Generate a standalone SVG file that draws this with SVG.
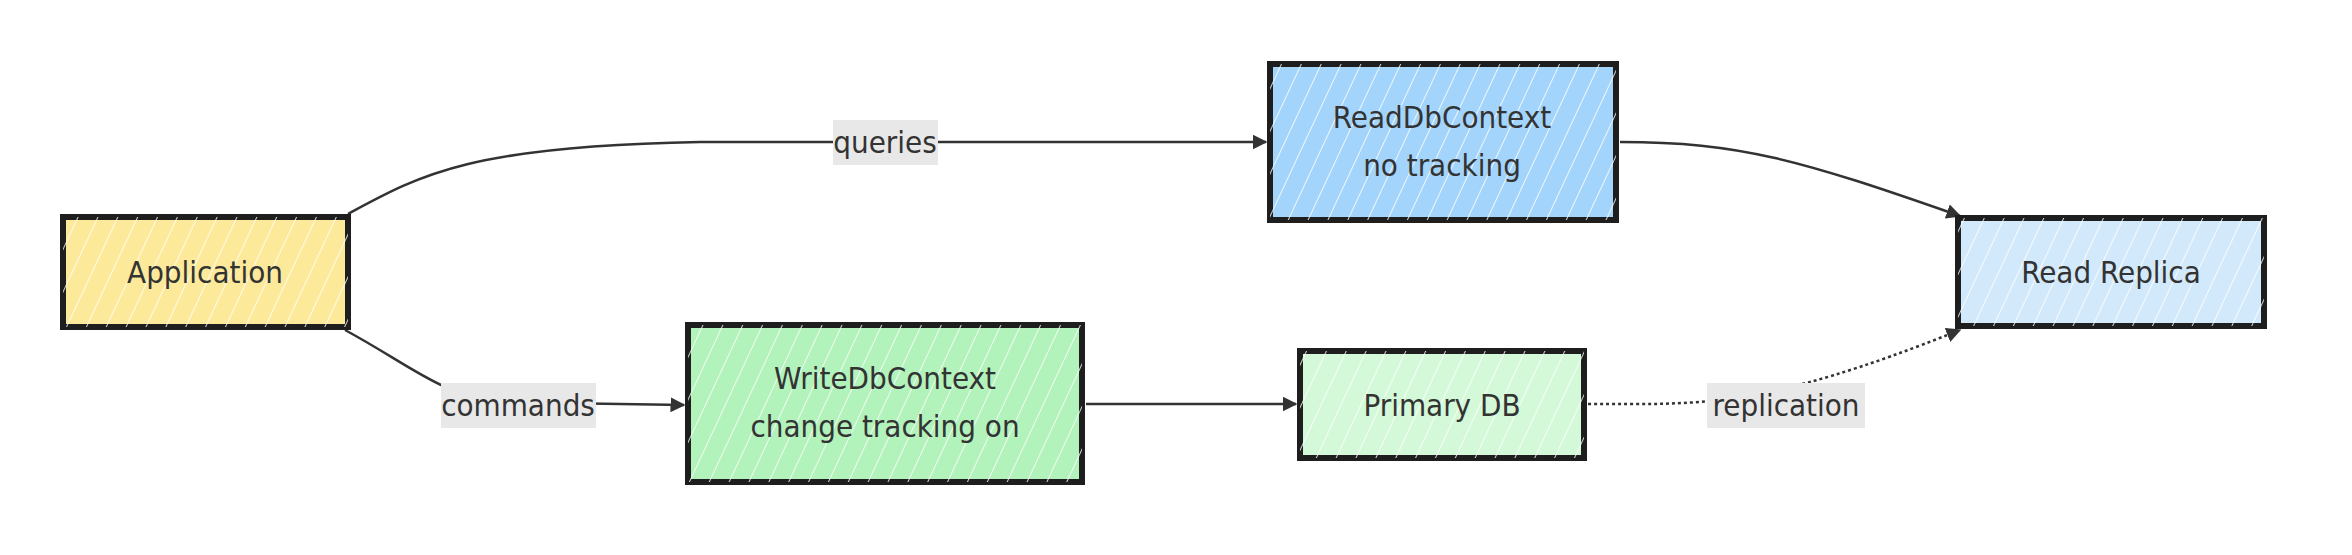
<svg xmlns="http://www.w3.org/2000/svg" width="2352" height="555" viewBox="0 0 2352 555">
<style>
.n{stroke:#1e1e1e;stroke-width:6}
.t{font-family:"DejaVu Sans Condensed","DejaVu Sans",sans-serif;font-size:31px;fill:#333;text-anchor:middle}
.e{fill:none;stroke:#333;stroke-width:2.5}
.lb{fill:#e8e8e8}
</style>
<defs>
<pattern id="h" width="18" height="18" patternUnits="userSpaceOnUse" patternTransform="rotate(25)">
<line x1="0" y1="0" x2="0" y2="18" stroke="#fff" stroke-width="2" opacity="0.8"/>
</pattern>
<marker id="a" viewBox="0 0 10 10" refX="9" refY="5" markerWidth="6" markerHeight="6" orient="auto"><path d="M0,0L10,5L0,10z" fill="#333"/></marker>
</defs>
<rect width="2352" height="555" fill="#fff"/>
<g id="connectors">
<path class="e" d="M348,214 C420,175 470,146 700,142 L1266,142" marker-end="url(#a)"/>
<path class="e" d="M345,330 C410,365 440,395 500,402 L684,405" marker-end="url(#a)"/>
<path class="e" d="M1086,404 L1296,404" marker-end="url(#a)"/>
<path class="e" d="M1620,142 C1740,142 1800,160 1960,216" marker-end="url(#a)"/>
<path class="e" d="M1588,404 C1700,404 1760,410 1960,330" stroke-dasharray="3,3" marker-end="url(#a)"/>
<rect class="lb" x="833" y="120" width="105" height="45"/><text class="t" x="885" y="153">queries</text>
<rect class="lb" x="441" y="383" width="155" height="45"/><text class="t" x="518" y="416">commands</text>
<rect class="lb" x="1707" y="383" width="158" height="45"/><text class="t" x="1786" y="416">replication</text>
</g>
<g id="app"><rect class="n" x="63" y="217" width="285" height="110" fill="#fde99a"/><rect x="63" y="217" width="285" height="110" fill="url(#h)"/><text class="t" x="205" y="283">Application</text></g>
<g id="read"><rect class="n" x="1270" y="64" width="346" height="156" fill="#a3d4fb"/><rect x="1270" y="64" width="346" height="156" fill="url(#h)"/><text class="t" x="1442" y="128">ReadDbContext</text><text class="t" x="1442" y="176">no tracking</text></g>
<g id="replica"><rect class="n" x="1958" y="218" width="306" height="108" fill="#d2e9fc"/><rect x="1958" y="218" width="306" height="108" fill="url(#h)"/><text class="t" x="2111" y="283">Read Replica</text></g>
<g id="write"><rect class="n" x="688" y="325" width="394" height="157" fill="#b2f2bb"/><rect x="688" y="325" width="394" height="157" fill="url(#h)"/><text class="t" x="885" y="389">WriteDbContext</text><text class="t" x="885" y="437">change tracking on</text></g>
<g id="primary"><rect class="n" x="1300" y="351" width="284" height="107" fill="#d3f9d8"/><rect x="1300" y="351" width="284" height="107" fill="url(#h)"/><text class="t" x="1442" y="416">Primary DB</text></g>
</svg>
